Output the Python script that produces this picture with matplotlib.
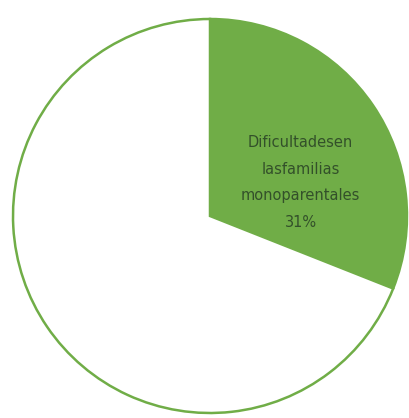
import matplotlib.pyplot as plt

categories = ['Dificultadesen\nlasfamilias\nmonoparentales', '']
values = [31, 69]
colors = ['#70ad47', 'white']

fig = plt.figure(figsize=(4.09, 4.18), dpi=100)
# pie centre ~ (210, 216) px, radius ~197 px
ax = fig.add_axes([13 / 409, 5 / 418, 394 / 409, 394 / 418])
ax.pie(values, colors=colors, startangle=90, counterclock=False,
       wedgeprops=dict(edgecolor='#70ad47', linewidth=1.8))
ax.set_xlim(-1, 1)
ax.set_ylim(-1, 1)
ax.set_aspect('equal')
ax.axis('off')

total = sum(values)
label = f"{categories[0]}\n{round(values[0] / total * 100)}%"
ax.text(0.46, 0.17, label, ha='center', va='center', fontsize=10.5,
        color='#33502a', linespacing=1.95)

fig.savefig('out.png', dpi=100)
